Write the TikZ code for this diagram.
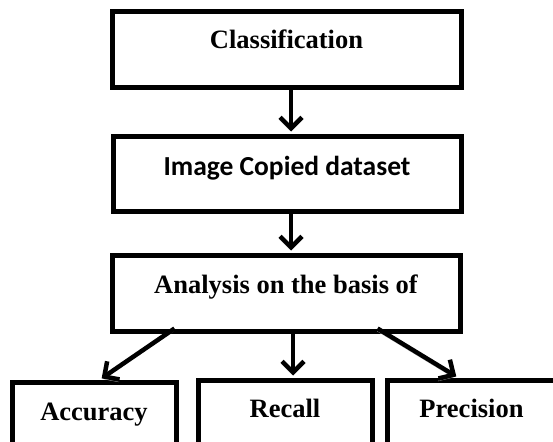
\documentclass[tikz,border=0pt]{standalone}
\usepackage{fontspec}
\setmainfont{Liberation Serif}
\newfontfamily\calibri{Carlito}
\usetikzlibrary{arrows.meta}

\begin{document}
\begin{tikzpicture}[x=1pt,y=-1pt,
  caja/.style={draw, line width=5pt, inner sep=0pt, text height=38pt, text depth=38pt,
    anchor=base, font=\fontsize{26.5}{30}\selectfont\bfseries},
  flecha/.style={line width=4.5pt, -{Straight Barb[length=11pt,width=22pt]}, shorten >=2pt,
    preaction={draw=gray!60, transform canvas={shift={(-0.5pt,-2.5pt)}}}}]
  \useasboundingbox (0,0) rectangle (553,441);
  \clip (0,0) rectangle (553,441);
  % cajas
  \node[caja, minimum width=349pt, text height=37.5pt, text depth=38.5pt] (clasif) at (286.5,49) {Classification};
  \node[caja, minimum width=348pt, text height=39pt, text depth=36pt, font=\fontsize{27.5}{30}\selectfont\calibri\bfseries] (datos) at (287,175) {Image Copied dataset};
  \node[caja, minimum width=348pt] (analisis) at (286,293) {Analysis on the basis of};
  \node[caja, minimum width=164pt] (exact) at (94,420) {Accuracy};
  \node[caja, minimum width=174pt, text height=37pt] (recall) at (285,417) {Recall};
  \node[caja, minimum width=169pt, text height=37pt] (precis) at (471.5,417) {Precision};
  % flechas
  \draw[flecha] ([xshift=4.5pt]clasif.south) -- ([xshift=4pt]datos.north);
  \draw[flecha] ([xshift=4pt]datos.south) -- ([xshift=5pt]analisis.north);
  \draw[flecha] ([xshift=65pt,yshift=5pt]analisis.south west) -- ([xshift=6pt]exact.north);
  \draw[flecha] ([xshift=7pt]analisis.south) -- ([xshift=8pt]recall.north);
  \draw[flecha] ([xshift=-85pt,yshift=5pt]analisis.south east) -- ([xshift=-13.5pt]precis.north);
\end{tikzpicture}
\end{document}
